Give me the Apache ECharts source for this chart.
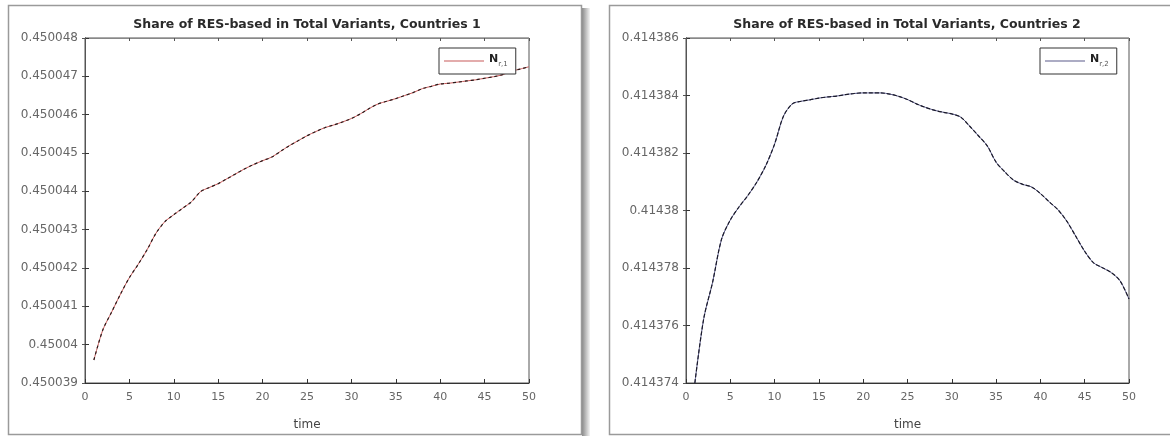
<!DOCTYPE html>
<html>
<head>
<meta charset="utf-8">
<script src="https://cdn.jsdelivr.net/npm/echarts@6/dist/echarts.min.js"></script>
<style>
html,body{margin:0;padding:0;background:#fff;}
#chart{width:1170px;height:436px;}
</style>
</head>
<body>
<div id="chart"></div>
<script>
// ---- data ----
const times = [1,2,3,4,5,6,7,8,9,10,11,12,13,14,15,16,17,18,19,20,21,22,23,24,25,26,27,28,29,30,31,32,33,34,35,36,37,38,39,40,41,42,43,44,45,46,47,48,49,50];

const shareCountries1 = [
  0.4500396, 0.45004038, 0.45004085, 0.45004132, 0.45004175, 0.4500421, 0.45004248, 0.45004291, 0.45004321, 0.45004339,
  0.45004356, 0.45004373, 0.45004399, 0.4500441, 0.4500442, 0.45004433, 0.45004446, 0.45004459, 0.4500447, 0.4500448,
  0.45004489, 0.45004504, 0.45004519, 0.45004532, 0.45004545, 0.45004556, 0.45004566, 0.45004573, 0.45004581, 0.4500459,
  0.45004602, 0.45004616, 0.45004628, 0.45004635, 0.45004642, 0.4500465, 0.45004658, 0.45004668, 0.45004674, 0.4500468,
  0.45004682, 0.45004685, 0.45004688, 0.45004691, 0.45004695, 0.45004699, 0.45004704, 0.45004713, 0.45004719, 0.45004725
];

const shareCountries2 = [
  0.414374, 0.41437624, 0.4143775, 0.41437899, 0.41437967, 0.41438013, 0.41438053, 0.41438099, 0.41438156, 0.41438231,
  0.41438328, 0.41438371, 0.4143838, 0.41438385, 0.41438391, 0.41438395, 0.41438398, 0.41438403, 0.41438407, 0.41438409,
  0.41438409, 0.41438409, 0.41438405, 0.41438397, 0.41438386, 0.41438371, 0.41438359, 0.41438349, 0.41438342, 0.41438336,
  0.41438325, 0.41438294, 0.4143826, 0.41438225, 0.41438168, 0.41438134, 0.41438105, 0.41438091, 0.41438082, 0.41438059,
  0.4143803, 0.41438002, 0.41437962, 0.4143791, 0.41437858, 0.41437818, 0.41437801, 0.41437784, 0.41437755, 0.41437692
];

const xTicks = {min: 0, max: 50, interval: 5};
const yTicks1 = {min: 0.450039, max: 0.450048, interval: 0.000001};
const yTicks2 = {min: 0.414374, max: 0.414386, interval: 0.000002};

const titles = ['Share of RES-based in Total Variants, Countries 1', 'Share of RES-based in Total Variants, Countries 2'];
const legendNames = ['N_r1', 'N_r2'];
const legendSub = ['r,1', 'r,2'];
const xName = 'time';

// ---- chart ----
const FONT = 'DejaVu Sans';
const chart = echarts.init(document.getElementById('chart'), null, {renderer: 'canvas'});

const grids = [
  {left: 85, top: 38, width: 444, height: 350, show: true, borderColor: '#555', borderWidth: 1, backgroundColor: '#fff'},
  {left: 686, top: 38, width: 443, height: 350, show: true, borderColor: '#555', borderWidth: 1, backgroundColor: '#fff'}
];

const fmt = v => parseFloat(Number(v).toFixed(6)).toString();

function xAxisFor(gi) {
  return [
    {gridIndex: gi, type: 'value', position: 'bottom', min: xTicks.min, max: xTicks.max, interval: xTicks.interval,
     name: xName, nameLocation: 'middle', nameGap: 36,
     nameTextStyle: {fontFamily: FONT, fontSize: 12, color: '#444'},
     axisLine: {show: true, lineStyle: {color: '#333', width: 1}},
     axisTick: {show: true, inside: true, length: 4, lineStyle: {color: '#333'}},
     axisLabel: {fontFamily: FONT, fontSize: 11, color: '#666', margin: 9},
     splitLine: {show: false}},
    {gridIndex: gi, type: 'value', position: 'top', min: xTicks.min, max: xTicks.max, interval: xTicks.interval,
     axisLine: {show: true, lineStyle: {color: '#888', width: 1}},
     axisTick: {show: true, inside: true, length: 3, lineStyle: {color: '#555'}},
     axisLabel: {show: false}, splitLine: {show: false}}
  ];
}
function yAxisFor(gi, t) {
  return [
    {gridIndex: gi, type: 'value', position: 'left', min: t.min, max: t.max, interval: t.interval, scale: true,
     axisLine: {show: true, lineStyle: {color: '#333', width: 1}},
     axisTick: {show: true, inside: true, length: 4, lineStyle: {color: '#333'}},
     axisLabel: {fontFamily: FONT, fontSize: 12, color: '#666', margin: 7, formatter: fmt},
     splitLine: {show: false}},
    {gridIndex: gi, type: 'value', position: 'right', min: t.min, max: t.max, interval: t.interval, scale: true,
     axisLine: {show: true, lineStyle: {color: '#555', width: 1}},
     axisTick: {show: true, inside: true, length: 3, lineStyle: {color: '#555'}},
     axisLabel: {show: false}, splitLine: {show: false}}
  ];
}

const pairs1 = times.map((t, i) => [t, shareCountries1[i]]);
const pairs2 = times.map((t, i) => [t, shareCountries2[i]]);

const legendRich = {
  n: {fontFamily: FONT, fontSize: 11, fontWeight: 'bold', color: '#222', verticalAlign: 'top', lineHeight: 14},
  s: {fontFamily: FONT, fontSize: 7, color: '#555', verticalAlign: 'bottom', lineHeight: 14, padding: [7, 0, 0, 0]}
};

const option = {
  backgroundColor: '#fff',
  animation: false,
  graphic: [
    {type: 'rect', shape: {x: 582, y: 8, width: 8, height: 428}, style: {fill: new echarts.graphic.LinearGradient(0, 0, 1, 0, [{offset: 0, color: '#8a8a8a'}, {offset: 1, color: '#f4f4f4'}])}, z: -1},
    {type: 'rect', shape: {x: 8.5, y: 5.5, width: 573, height: 429}, style: {fill: '#fff', stroke: '#9a9a9a', lineWidth: 1.5}, z: -1},
    {type: 'rect', shape: {x: 609.5, y: 5.5, width: 570, height: 429}, style: {fill: '#fff', stroke: '#9a9a9a', lineWidth: 1.5}, z: -1}
  ],
  title: [
    {text: titles[0], left: 307, top: 18, textAlign: 'center', padding: 0,
     textStyle: {fontFamily: FONT, fontSize: 12.5, fontWeight: 'bold', color: '#2a2a2a'}},
    {text: titles[1], left: 907, top: 18, textAlign: 'center', padding: 0,
     textStyle: {fontFamily: FONT, fontSize: 12.5, fontWeight: 'bold', color: '#2a2a2a'}}
  ],
  legend: [
    {data: [legendNames[0]], left: 439, top: 48, orient: 'vertical', padding: [6, 8, 6, 5],
     itemWidth: 40, itemHeight: 10, itemGap: 5, borderColor: '#333', borderWidth: 1, backgroundColor: '#fff',
     icon: 'path://M0,4.5L40,4.5L40,5.7L0,5.7Z',
     formatter: () => '{n|N}{s|' + legendSub[0] + '}', textStyle: {rich: legendRich}},
    {data: [legendNames[1]], left: 1040, top: 48, orient: 'vertical', padding: [6, 8, 6, 5],
     itemWidth: 40, itemHeight: 10, itemGap: 5, borderColor: '#333', borderWidth: 1, backgroundColor: '#fff',
     icon: 'path://M0,4.5L40,4.5L40,5.7L0,5.7Z',
     formatter: () => '{n|N}{s|' + legendSub[1] + '}', textStyle: {rich: legendRich}}
  ],
  grid: grids,
  xAxis: [...xAxisFor(0), ...xAxisFor(1)],
  yAxis: [...yAxisFor(0, yTicks1), ...yAxisFor(1, yTicks2)],
  series: [
    {name: legendNames[0], type: 'line', xAxisIndex: 0, yAxisIndex: 0, data: pairs1, showSymbol: false, symbol: 'none', smooth: 0.3,
     lineStyle: {color: '#c85a5a', width: 1}, itemStyle: {color: '#c85a5a'}, z: 2},
    {name: 'overlay1', type: 'line', xAxisIndex: 0, yAxisIndex: 0, data: pairs1, showSymbol: false, symbol: 'none', smooth: 0.3,
     lineStyle: {color: '#2a1a1a', width: 1.2, type: [3, 3]}, z: 3},
    {name: legendNames[1], type: 'line', xAxisIndex: 2, yAxisIndex: 2, data: pairs2, showSymbol: false, symbol: 'none', smooth: 0.3,
     lineStyle: {color: '#5a5a8a', width: 1}, itemStyle: {color: '#5a5a8a'}, z: 2},
    {name: 'overlay2', type: 'line', xAxisIndex: 2, yAxisIndex: 2, data: pairs2, showSymbol: false, symbol: 'none', smooth: 0.3,
     lineStyle: {color: '#1a1a2a', width: 1.2, type: [4, 2]}, z: 3}
  ]
};
chart.setOption(option);
</script>
</body>
</html>
